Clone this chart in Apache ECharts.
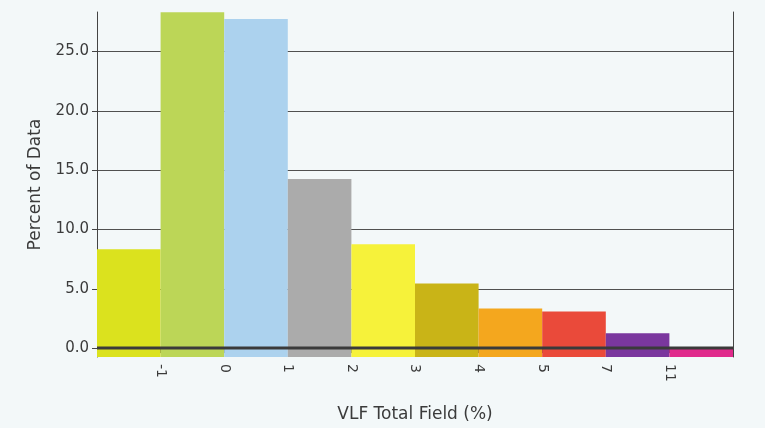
<!DOCTYPE html>
<html>
<head>
<meta charset="utf-8">
<script src="https://cdn.jsdelivr.net/npm/echarts@6/dist/echarts.min.js"></script>
<style>
html,body{margin:0;padding:0;background:#f3f8f9;}
#c{width:765px;height:428px;}
</style>
</head>
<body>
<div id="c"></div>
<script>
// Bin boundary labels (between consecutive bars)
const binEdgeLabels = ['-1', '0', '1', '2', '3', '4', '5', '7', '11'];
// Percent of data per bin (10 bins)
const percentValues = [8.33, 28.3, 27.75, 14.25, 8.75, 5.45, 3.33, 3.08, 1.25, 0.0];
const barColors = ['#dbe21e', '#bcd657', '#acd2ee', '#ababab', '#f6f23a', '#c9b417', '#f4a71e', '#ea4a3a', '#7a379e', '#e02a8c'];
const yTicks = [0, 5, 10, 15, 20, 25];
const yMin = -0.75, yMax = 28.33;

const chart = echarts.init(document.getElementById('c'), null, {renderer: 'canvas'});
const fontFam = '"DejaVu Sans", "Liberation Sans", sans-serif';
const txt = '#3b3b3b';

chart.setOption({
  backgroundColor: '#f3f8f9',
  animation: false,
  grid: {left: 97, right: 32, top: 12, bottom: 66, containLabel: false},
  xAxis: {
    type: 'value', min: 0, max: percentValues.length,
    name: 'VLF Total Field (%)', nameLocation: 'middle', nameGap: 49,
    nameTextStyle: {fontFamily: fontFam, fontSize: 17, color: txt},
    axisLine: {show: true, lineStyle: {color: '#444', width: 1}},
    axisTick: {show: true, length: 5, customValues: binEdgeLabels.map((_, i) => i + 1), lineStyle: {color: '#444'}},
    splitLine: {show: false},
    axisLabel: {
      customValues: binEdgeLabels.map((_, i) => i + 1),
      formatter: v => binEdgeLabels[Math.round(v) - 1] || '',
      rotate: -90, margin: 7, fontFamily: fontFam, fontSize: 14, color: txt
    }
  },
  yAxis: [{
    type: 'value', min: yMin, max: yMax,
    name: 'Percent of Data', nameLocation: 'middle', nameGap: 53,
    nameTextStyle: {fontFamily: fontFam, fontSize: 17, color: txt},
    axisLine: {show: true, lineStyle: {color: '#444', width: 1}},
    axisTick: {show: true, length: 5, customValues: yTicks, lineStyle: {color: '#444'}},
    axisLabel: {customValues: yTicks, formatter: v => v.toFixed(1), margin: 8, fontFamily: fontFam, fontSize: 15, color: txt},
    splitLine: {show: true, lineStyle: {color: '#505050', width: 1}}
  }, {
    type: 'value', min: yMin, max: yMax, position: 'right',
    axisLine: {show: true, onZero: false, lineStyle: {color: '#444', width: 1}},
    axisTick: {show: false}, axisLabel: {show: false}, splitLine: {show: false}
  }],
  series: [{
    type: 'custom',
    z: 3,
    data: percentValues.map((v, i) => [i, v]),
    renderItem: (params, api) => {
      const i = api.value(0), v = api.value(1);
      const p1 = api.coord([i, v]);
      const p2 = api.coord([i + 1, yMin]);
      return {
        type: 'rect',
        shape: {x: p1[0], y: p1[1], width: p2[0] - p1[0], height: p2[1] - p1[1]},
        style: {fill: barColors[i], stroke: null}
      };
    }
  }, {
    type: 'line', z: 5, symbol: 'none', silent: true,
    data: [[0, 0], [percentValues.length, 0]],
    lineStyle: {color: '#3a3a3a', width: 3}
  }]
});
</script>
</body>
</html>
